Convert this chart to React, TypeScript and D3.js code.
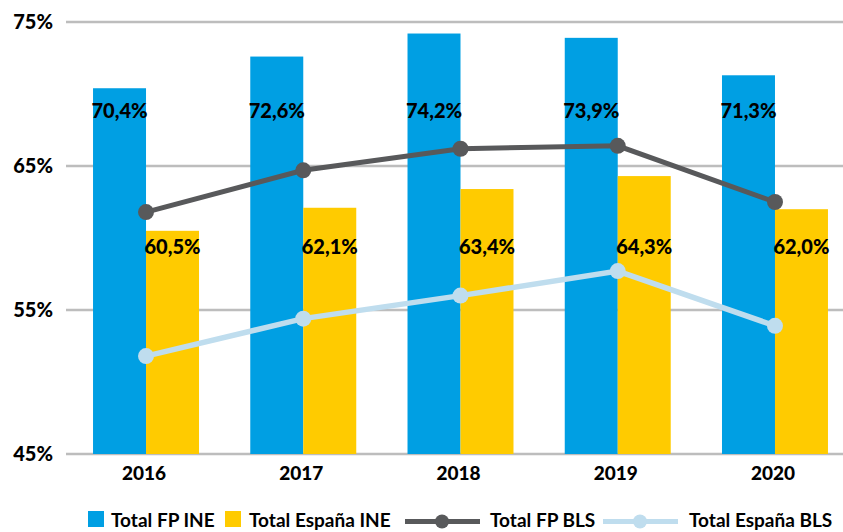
import React from "react";
import * as d3 from "d3";

const years = ["2016", "2017", "2018", "2019", "2020"];
const fpINE = [70.4, 72.6, 74.2, 73.9, 71.3];
const espINE = [60.5, 62.1, 63.4, 64.3, 62.0];
const fpBLS = [61.8, 64.7, 66.2, 66.4, 62.5];
const espBLS = [51.8, 54.4, 56.0, 57.7, 53.9];
const yTicks = [45, 55, 65, 75];

const W = 843;
const H = 532;
const FONT = "Lato, 'Open Sans', sans-serif";
const C_BLUE = "#009FE3";
const C_YEL = "#FFCB00";
const C_DARK = "#58595B";
const C_LIGHT = "#BFDDEE";
const C_GRID = "#BDBDBD";

const fmt = (v: number) => v.toFixed(1).replace(".", ",") + "%";

export default function App() {
  const y = d3.scaleLinear().domain([45, 75]).range([454, 22]);
  const x0 = d3
    .scaleBand<string>()
    .domain(years)
    .range([67.4, 853.6])
    .paddingInner(0.326)
    .paddingOuter(0.163);
  const x1 = d3
    .scaleBand<string>()
    .domain(["ine", "esp"])
    .range([0, x0.bandwidth()]);
  const cx = (d: string) => (x0(d) as number) + x0.bandwidth() / 2;

  const line = d3
    .line<number>()
    .x((_, i) => cx(years[i]))
    .y((v) => y(v));

  return (
    <svg
      width={W}
      height={H}
      style={{ position: "absolute", left: 0, top: 0, background: "#fff" }}
      fontFamily={FONT}
    >
      {/* gridlines */}
      {yTicks.map((t) => (
        <g key={t}>
          <line x1={66} x2={W} y1={y(t)} y2={y(t)} stroke={C_GRID} strokeWidth={2.5} />
          <text
            x={53}
            y={y(t) + 7}
            textAnchor="end"
            fontSize={20}
            fontWeight={900}
            fill="#000"
          >
            {t}%
          </text>
        </g>
      ))}

      {/* bars */}
      {years.map((yr, i) => (
        <g key={yr}>
          <rect
            x={(x0(yr) as number) + (x1("ine") as number)}
            y={y(fpINE[i])}
            width={x1.bandwidth()}
            height={y(45) - y(fpINE[i])}
            fill={C_BLUE}
          />
          <rect
            x={(x0(yr) as number) + (x1("esp") as number)}
            y={y(espINE[i])}
            width={x1.bandwidth()}
            height={y(45) - y(espINE[i])}
            fill={C_YEL}
          />
        </g>
      ))}

      {/* lines */}
      <path d={line(fpBLS) || ""} fill="none" stroke={C_DARK} strokeWidth={5} />
      {fpBLS.map((v, i) => (
        <circle key={"d" + i} cx={cx(years[i])} cy={y(v)} r={8} fill={C_DARK} />
      ))}
      <path d={line(espBLS) || ""} fill="none" stroke={C_LIGHT} strokeWidth={5.5} />
      {espBLS.map((v, i) => (
        <circle key={"l" + i} cx={cx(years[i])} cy={y(v)} r={8} fill={C_LIGHT} />
      ))}

      {/* bar labels */}
      {years.map((yr, i) => (
        <g key={"lab" + yr} fontSize={20} fontWeight={900} fill="#000" textAnchor="middle">
          <text x={(x0(yr) as number) + (x1("ine") as number) + x1.bandwidth() / 2} y={118}>
            {fmt(fpINE[i])}
          </text>
          <text x={(x0(yr) as number) + (x1("esp") as number) + x1.bandwidth() / 2} y={254}>
            {fmt(espINE[i])}
          </text>
        </g>
      ))}

      {/* x axis labels */}
      {years.map((yr) => (
        <text
          key={"x" + yr}
          x={cx(yr) - 2}
          y={480}
          textAnchor="middle"
          fontSize={19}
          fontWeight={900}
          fill="#000"
        >
          {yr}
        </text>
      ))}

      {/* legend */}
      <g fontSize={19} fontWeight={700} fill="#000">
        <rect x={88} y={511} width={16} height={16} fill={C_BLUE} />
        <text x={111} y={527}>Total FP INE</text>
        <rect x={225} y={511} width={16} height={16} fill={C_YEL} />
        <text x={249} y={527}>Total España INE</text>
        <line x1={405} x2={480} y1={521.5} y2={521.5} stroke={C_DARK} strokeWidth={5} />
        <circle cx={442} cy={521.5} r={7} fill={C_DARK} />
        <text x={490} y={527}>Total FP BLS</text>
        <line x1={603} x2={678} y1={521.5} y2={521.5} stroke={C_LIGHT} strokeWidth={5} />
        <circle cx={640} cy={521.5} r={7} fill={C_LIGHT} />
        <text x={689} y={527}>Total España BLS</text>
      </g>
    </svg>
  );
}
